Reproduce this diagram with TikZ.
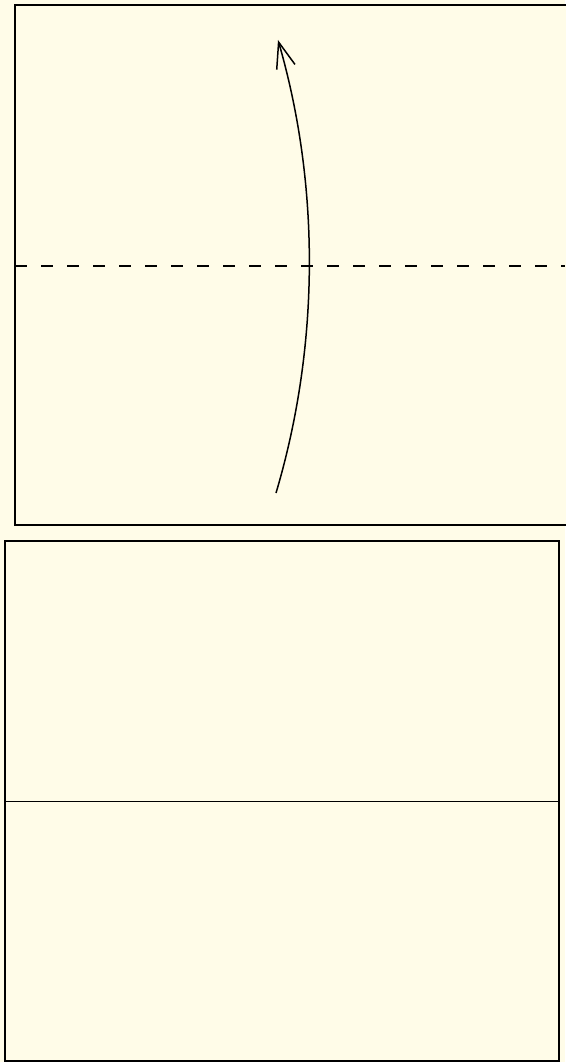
\documentclass[tikz,border=0pt]{standalone}
\usetikzlibrary{arrows.meta}
\definecolor{cream}{HTML}{FFFCE8}
\tikzset{
  paper/.style={draw=black, line width=1.6pt, fill=cream},
  foldline/.style={draw=black, line width=1.5pt, dash pattern=on 12pt off 14pt},
  creaseline/.style={draw=black, line width=0.9pt},
  motion/.style={draw=black, line width=1.5pt, -{Straight Barb[length=26pt,width=19pt,line width=1.5pt]}}
}
\begin{document}
\begin{tikzpicture}[x=1pt,y=-1pt]
\useasboundingbox (0,0) rectangle (565,1062);
\fill[cream] (0,0) rectangle (565,1062);
% top square
\draw[paper] (15,5) rectangle (580,525);
\coordinate (dl) at (15,266);
\coordinate (dr) at (565,266);
\draw[foldline] (dl) -- (dr);
\coordinate (as) at (276,493);
\coordinate (ae) at (278,40);
\draw[motion] (as) .. controls (320,345) and (320,185) .. (ae);
% bottom rectangle
\draw[paper] (5,541) rectangle (559,1061);
\coordinate (cl) at (5,801);
\coordinate (cr) at (559,801);
\draw[creaseline] (cl) -- (cr);
\end{tikzpicture}
\end{document}
